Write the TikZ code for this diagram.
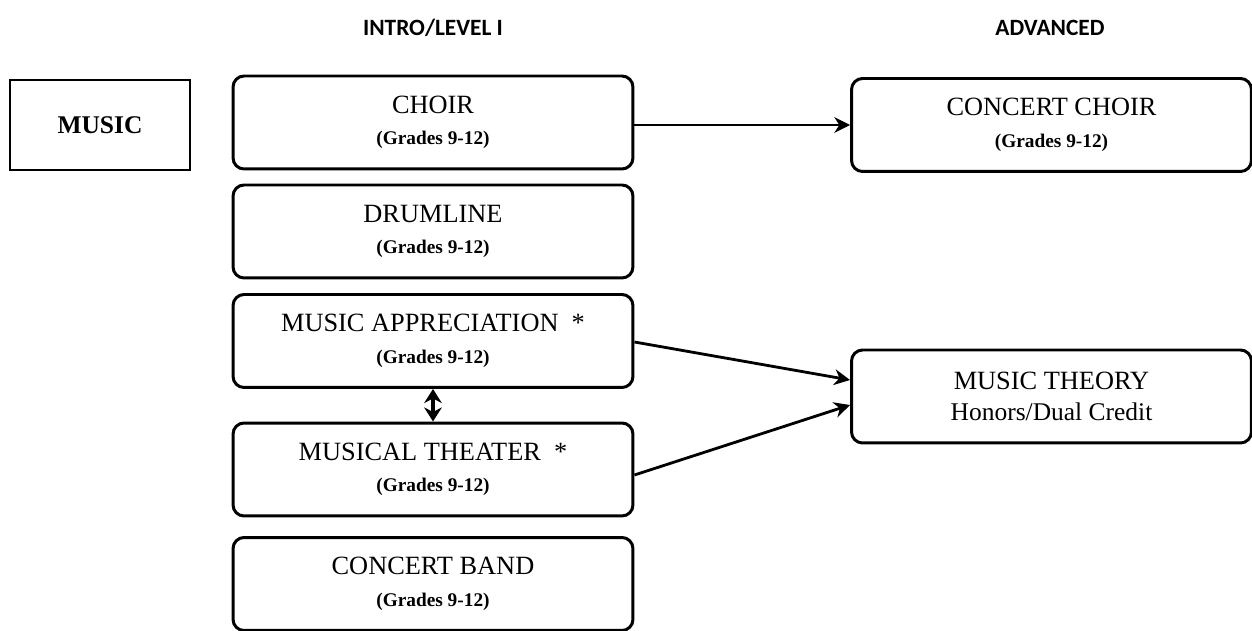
\documentclass[tikz,border=0pt]{standalone}
\usepackage{fontspec}
\setmainfont{Liberation Serif}
\newfontfamily\headfont{Carlito}
\usetikzlibrary{arrows.meta}

\tikzset{
	course/.style={draw, line width=1.7pt, rounded corners=0.22cm, minimum width=8cm, minimum height=1.86cm, align=center, font=\fontsize{15}{19}\selectfont, inner sep=0pt},
	subject/.style={draw, line width=0.8pt, minimum width=3.6cm, minimum height=1.8cm, font=\fontsize{14.5}{17}\selectfont\bfseries},
	header/.style={font=\headfont\fontsize{13.3}{16}\selectfont\bfseries},
	link/.style={-{Stealth[length=9pt,width=9pt]}, line width=1.6pt},
}
\newcommand{\grades}{\\[-1pt]{\fontsize{11}{13}\selectfont\bfseries (Grades 9-12)}}

\begin{document}
\begin{tikzpicture}[x=0.02cm, y=-0.02cm]
		\useasboundingbox (0,0) rectangle (1252,631);
		% column titles
		\node[header] (intro) at (433,28) {INTRO/LEVEL I};
		\node[header] (adv) at (1050,28) {ADVANCED};
		% subject
		\node[subject] (music) at (100,125) {MUSIC};
		% level I courses
		\node[course] (choir) at (433,122.5) {CHOIR\grades};
		\node[course] (drum) at (433,231.5) {DRUMLINE\grades};
		\node[course] (apprec) at (433,341) {MUSIC APPRECIATION\ \ *\grades};
		\node[course] (theater) at (433,469.5) {MUSICAL THEATER\ \ *\grades};
		\node[course] (band) at (433,584) {CONCERT BAND\grades};
		% advanced courses
		\node[course] (cchoir) at (1051.5,125) {CONCERT CHOIR\grades};
		\node[course] (theory) at (1051.5,396.5) {MUSIC THEORY\\[-1pt]{\fontsize{14.5}{17}\selectfont Honors/Dual Credit}};
		% links
		\draw[link, line width=1.1pt] (choir.east |- 0,125) -- (cchoir.west);
		\draw[link] (apprec.east |- 0,342) -- (theory.west |- 0,380);
		\draw[link] (theater.east |- 0,475) -- (theory.west |- 0,405);
		\draw[{Stealth[length=8pt,width=10pt]}-{Stealth[length=8pt,width=10pt]}, line width=2pt] (apprec.south) -- (theater.north);
	\end{tikzpicture}
\end{document}
